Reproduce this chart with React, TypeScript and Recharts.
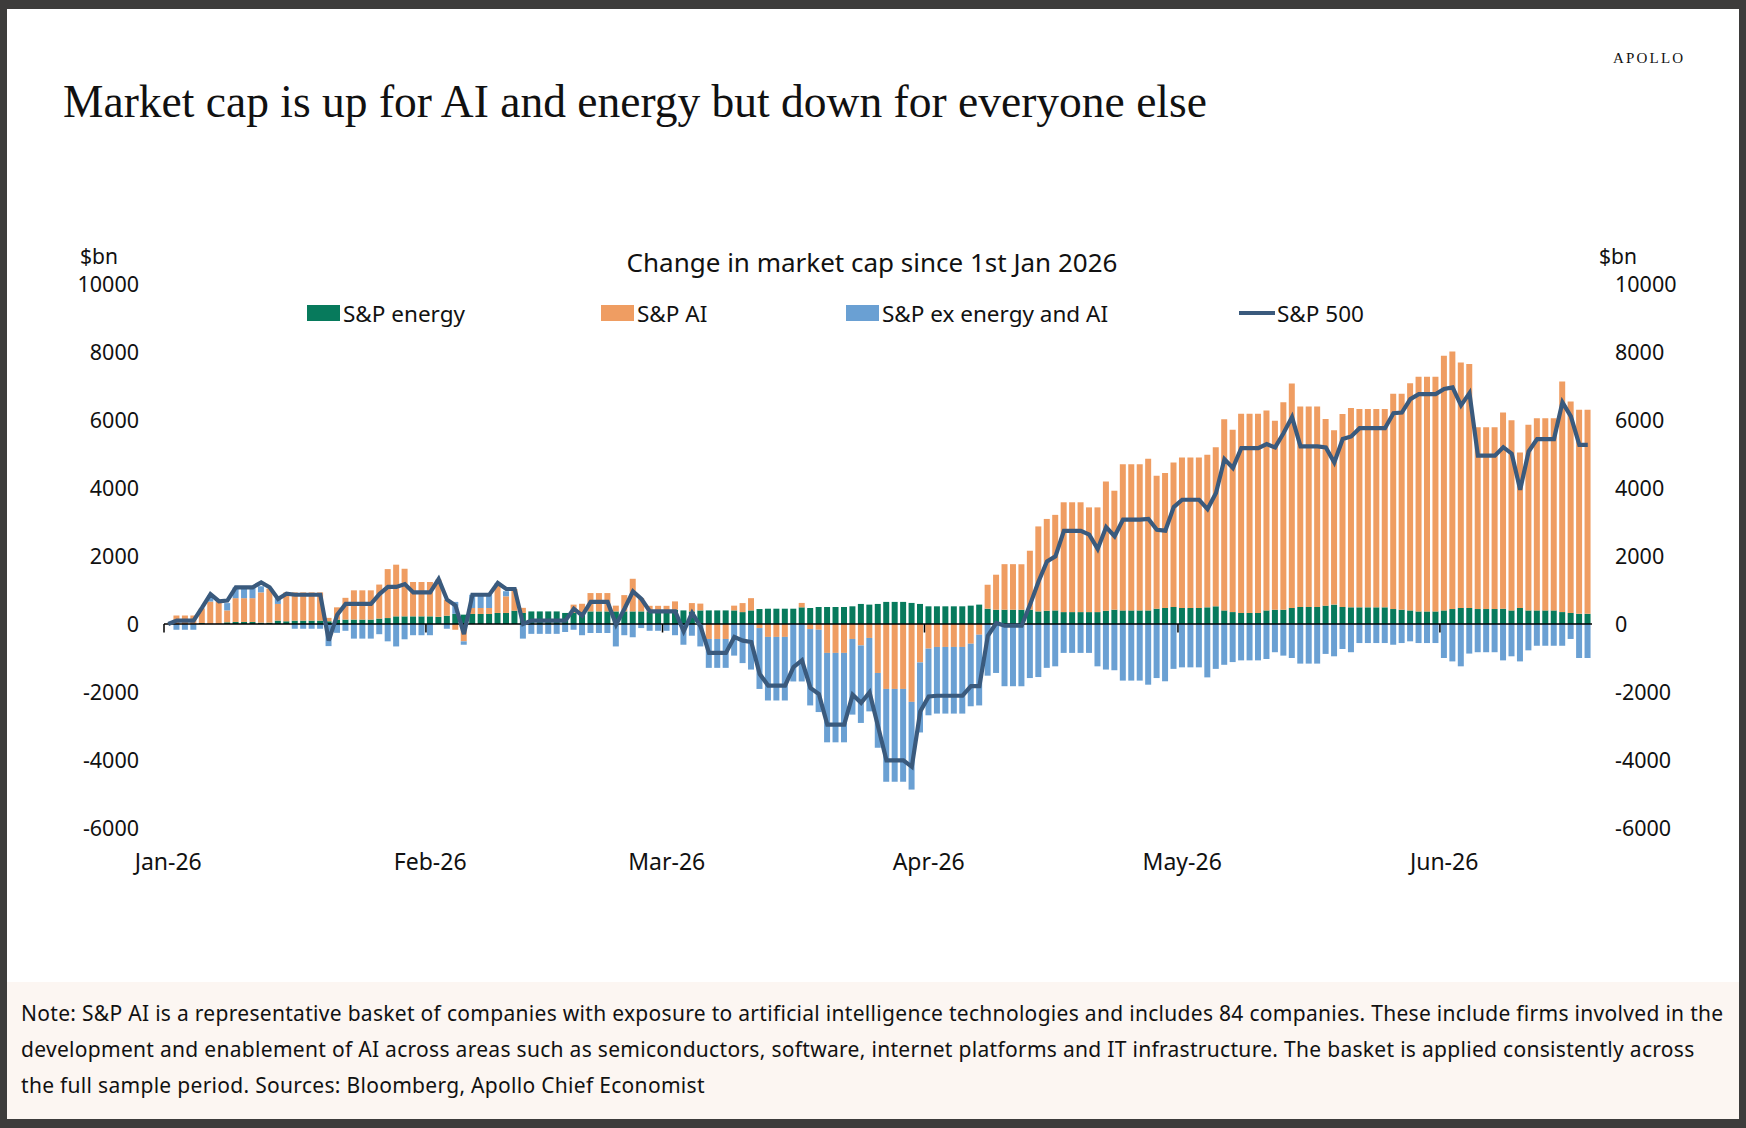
import {
  ComposedChart,
  Bar,
  Line,
  XAxis,
  YAxis,
  ReferenceLine,
} from "recharts";

// daily values, 1 Jan 2026 - 18 Jun 2026 (weekends carry Friday's value), $bn
const energy = [
  // Jan
  0, 0, 0, 0, 30, 10, 10, 50, 60, 60, 60, 40, 40, 100, 80, 100, 100, 100, 100, 80, 130, 130, 130, 130, 130, 160, 175, 225, 225, 225, 225,
  // Feb
  225, 210, 245, 300, 275, 295, 295, 295, 325, 325, 390, 325, 370, 370, 370, 370, 325, 325, 350, 370, 370, 370, 370, 370, 370, 370, 370, 370,
  // Mar
  370, 420, 400, 370, 400, 400, 400, 400, 400, 350, 400, 440, 450, 450, 450, 450, 490, 470, 500, 500, 500, 500, 520, 590, 570, 590, 650, 650, 650, 620, 590,
  // Apr
  520, 520, 520, 520, 520, 540, 570, 450, 420, 420, 420, 420, 420, 370, 390, 400, 350, 350, 350, 350, 350, 390, 420, 400, 400, 400, 400, 450, 470, 500,
  // May
  470, 470, 470, 490, 520, 400, 350, 325, 325, 325, 400, 420, 420, 470, 500, 500, 500, 540, 570, 500, 490, 490, 490, 490, 490, 440, 420, 400, 370, 370, 370,
  // Jun
  400, 440, 470, 470, 440, 440, 440, 450, 400, 470, 400, 400, 400, 400, 350, 325, 300, 300,
];

const ai = [
  // Jan
  0, 250, 250, 250, 430, 650, 650, 350, 700, 700, 700, 890, 1000, 490, 850, 830, 830, 830, 830, 100, 360, 640, 860, 860, 860, 1000, 1440, 1520, 1400, 1010, 1010,
  // Feb
  1010, 1100, 470, -170, -510, 175, 175, 175, 800, 490, 640, 150, 0, 0, 0, 0, 0, 245, 245, 540, 540, 540, 170, 480, 960, 390, 165, 165,
  // Mar
  165, 245, 0, 245, 200, -440, -440, -440, 140, 265, 360, -120, -380, -380, -380, 0, 130, -150, -170, -850, -850, -850, -440, -630, -410, -1440, -1910, -1910, -1910, -2290, -1130,
  // Apr
  -725, -675, -675, -675, -675, -580, -315, 705, 1030, 1340, 1340, 1340, 1735, 2500, 2700, 2810, 3230, 3230, 3230, 3080, 3080, 3800, 3500, 4300, 4300, 4300, 4460, 3910, 3970, 4250,
  // May
  4430, 4430, 4430, 4490, 4680, 5625, 5360, 5860, 5860, 5860, 5880, 5560, 6100, 6600, 5900, 5900, 5900, 5490, 5125, 5680, 5860, 5830, 5830, 5830, 5830, 6330, 6350, 6680, 6900, 6900, 6900,
  // Jun
  7490, 7575, 7220, 7180, 5350, 5350, 5350, 5770, 5590, 4575, 5460, 5650, 5650, 5650, 6780, 6220, 6000, 6000,
];

const exEnergyAi = [
  // Jan
  0, -170, -170, -170, 0, 180, 0, 215, 315, 315, 315, 180, 0, 200, 0, -140, -140, -140, -140, -650, -260, -200, -430, -430, -430, -300, -510, -660, -450, -330, -330,
  // Feb
  -330, 0, -140, 350, -100, 390, 390, 390, 70, 150, 0, -430, -290, -290, -290, -290, -235, -170, -330, -265, -265, -265, -660, -330, -390, -120, -200, -200,
  // Mar
  -200, -330, -610, -345, -660, -850, -850, -850, -930, -1150, -1340, -1790, -1870, -1870, -1870, -1690, -1690, -2245, -2420, -2630, -2630, -2630, -2225, -2280, -2160, -2200, -2730, -2730, -2730, -2580, -2060,
  // Apr
  -1960, -1960, -1960, -1960, -1960, -1840, -2080, -1520, -1440, -1830, -1830, -1830, -1590, -1560, -1290, -1245, -850, -850, -850, -850, -1245, -1340, -1360, -1665, -1665, -1665, -1785, -1590, -1685, -1320,
  // May
  -1275, -1275, -1275, -1570, -1320, -1200, -1120, -1070, -1070, -1070, -1030, -830, -930, -1000, -1165, -1165, -1165, -880, -950, -735, -830, -560, -560, -560, -560, -610, -560, -510, -560, -560, -560,
  // Jun
  -1000, -1100, -1245, -870, -830, -830, -830, -1070, -950, -1100, -775, -640, -640, -640, -640, -440, -1000, -1000,
];

const sp500 = [
  // Jan
  0, 100, 100, 100, 480, 880, 670, 690, 1080, 1080, 1080, 1225, 1080, 735, 890, 860, 860, 860, 860, -490, 275, 590, 590, 590, 590, 880, 1090, 1090, 1175, 930, 930,
  // Feb
  930, 1320, 715, 540, -295, 860, 860, 860, 1205, 1030, 1030, 0, 100, 100, 100, 100, 100, 450, 245, 650, 650, 650, -20, 450, 960, 735, 370, 370,
  // Mar
  370, 370, -215, 325, -70, -850, -850, -850, -380, -490, -530, -1470, -1810, -1810, -1810, -1265, -1070, -1880, -2060, -2960, -2960, -2960, -2080, -2320, -2010, -3010, -4010, -4010, -4010, -4200, -2570,
  // Apr
  -2130, -2110, -2110, -2110, -2110, -1830, -1830, -345, 30, -50, -50, -50, 570, 1250, 1840, 1990, 2740, 2740, 2740, 2630, 2205, 2850, 2580, 3070, 3070, 3070, 3090, 2770, 2745, 3440,
  // May
  3655, 3655, 3655, 3380, 3850, 4850, 4590, 5175, 5175, 5175, 5290, 5195, 5615, 6085, 5225, 5225, 5225, 5195, 4750, 5440, 5515, 5760, 5760, 5760, 5760, 6200, 6220, 6615, 6760, 6760, 6760,
  // Jun
  6910, 6960, 6430, 6790, 4950, 4950, 4950, 5200, 5010, 3950, 5075, 5440, 5440, 5440, 6520, 6105, 5270, 5270,
];

const monthTicks = ["2026-01-01", "2026-02-01", "2026-03-01", "2026-04-01", "2026-05-01", "2026-06-01"];
const monthLabels = ["Jan-26", "Feb-26", "Mar-26", "Apr-26", "May-26", "Jun-26"];
const yTicks = [-6000, -4000, -2000, 0, 2000, 4000, 6000, 8000, 10000];

const GREEN = "#077a5c";
const ORANGE = "#ef9d62";
const BLUE = "#6aa0d3";
const NAVY = "#3a5a7d";
const SANS = "'Noto Sans', sans-serif";

function dayKey(i: number) {
  const d = new Date(Date.UTC(2026, 0, 1 + i));
  return d.toISOString().slice(0, 10);
}

const data = energy.map((v, i) => ({
  date: dayKey(i),
  energy: v,
  ai: ai[i],
  ex: exEnergyAi[i],
  sp500: sp500[i],
}));

const legendItems = [
  { label: "S&P energy", color: GREEN, kind: "box", left: 307 },
  { label: "S&P AI", color: ORANGE, kind: "box", left: 601 },
  { label: "S&P ex energy and AI", color: BLUE, kind: "box", left: 846 },
  { label: "S&P 500", color: NAVY, kind: "line", left: 1239 },
];

const tickStyle = { fill: "#111", fontSize: 21.5, fontFamily: SANS };

export default function App() {
  return (
    <div
      style={{
        position: "absolute",
        left: 0,
        top: 0,
        width: 1746,
        height: 1128,
        background: "#3d3c3b",
        overflow: "hidden",
        fontFamily: SANS,
      }}
    >
      <div style={{ position: "absolute", left: 7, top: 9, width: 1732, height: 1110, background: "#fff" }} />

      <div
        style={{
          position: "absolute",
          left: 1613,
          top: 50,
          fontFamily: "'Liberation Serif', serif",
          fontSize: 15,
          letterSpacing: 2.2,
          color: "#111",
        }}
      >
        APOLLO
      </div>

      <div
        style={{
          position: "absolute",
          left: 63,
          top: 75,
          fontFamily: "'Liberation Serif', serif",
          fontSize: 45.5,
          color: "#111",
          whiteSpace: "nowrap",
        }}
      >
        Market cap is up for AI and energy but down for everyone else
      </div>

      <div style={{ position: "absolute", left: 80, top: 242, fontSize: 21, color: "#111" }}>$bn</div>
      <div style={{ position: "absolute", left: 1599, top: 242, fontSize: 21, color: "#111" }}>$bn</div>

      <div
        style={{
          position: "absolute",
          left: 522,
          width: 700,
          top: 244,
          textAlign: "center",
          fontSize: 26,
          color: "#111",
        }}
      >
        Change in market cap since 1st Jan 2026
      </div>

      {legendItems.map((it) => (
        <div
          key={it.label}
          style={{
            position: "absolute",
            left: it.left,
            top: 298,
            height: 30,
            display: "flex",
            alignItems: "center",
            fontSize: 22.5,
            color: "#111",
            whiteSpace: "nowrap",
          }}
        >
          {it.kind === "box" ? (
            <span style={{ display: "inline-block", width: 33, height: 16, background: it.color, marginRight: 3 }} />
          ) : (
            <span style={{ display: "inline-block", width: 36, height: 4, background: it.color, marginRight: 2 }} />
          )}
          <span>{it.label}</span>
        </div>
      ))}

      <div style={{ position: "absolute", left: 0, top: 0 }}>
        <ComposedChart
          width={1746}
          height={900}
          data={data}
          stackOffset="sign"
          margin={{ top: 284, right: 90, bottom: 32, left: 100 }}
          barCategoryGap={0}
        >
          <XAxis
            dataKey="date"
            ticks={monthTicks}
            interval={0}
            tickFormatter={(v: string) => monthLabels[monthTicks.indexOf(v)] ?? ""}
            tick={{ ...tickStyle, fontSize: 23 }}
            tickLine={false}
            axisLine={false}
            tickSize={0}
            tickMargin={26}
            height={40}
          />
          <YAxis
            yAxisId="left"
            domain={[-6000, 10000]}
            ticks={yTicks}
            tick={tickStyle}
            tickLine={false}
            axisLine={false}
            tickSize={0}
            tickMargin={25}
            width={64}
            interval={0}
          />
          <YAxis
            yAxisId="right"
            orientation="right"
            domain={[-6000, 10000]}
            ticks={yTicks}
            tick={tickStyle}
            tickLine={false}
            axisLine={false}
            tickSize={0}
            tickMargin={23}
            width={64}
            interval={0}
          />
          <Bar yAxisId="left" dataKey="energy" stackId="cap" fill={GREEN} barSize={6} isAnimationActive={false} />
          <Bar yAxisId="left" dataKey="ai" stackId="cap" fill={ORANGE} barSize={6} isAnimationActive={false} />
          <Bar yAxisId="left" dataKey="ex" stackId="cap" fill={BLUE} barSize={6} isAnimationActive={false} />
          <ReferenceLine yAxisId="left" y={0} stroke="#000" strokeWidth={1.6} />
          {monthTicks.map((m) => (
            <ReferenceLine
              key={m}
              yAxisId="left"
              position="start"
              segment={[
                { x: m, y: 0 },
                { x: m, y: -250 },
              ]}
              stroke="#000"
              strokeWidth={1.5}
            />
          ))}
          <Line
            yAxisId="right"
            type="linear"
            dataKey="sp500"
            stroke={NAVY}
            strokeWidth={4.2}
            dot={false}
            isAnimationActive={false}
          />
        </ComposedChart>
      </div>

      <div
        style={{
          position: "absolute",
          left: 7,
          top: 982,
          width: 1732,
          height: 137,
          background: "#fcf6f2",
        }}
      />
      <div
        style={{
          position: "absolute",
          left: 21,
          top: 995,
          fontSize: 21,
          letterSpacing: 0.3,
          lineHeight: "36px",
          color: "#111",
          whiteSpace: "nowrap",
        }}
      >
        <div>
          Note: S&amp;P AI is a representative basket of companies with exposure to artificial intelligence technologies and includes 84 companies. These include firms involved in the
        </div>
        <div>
          development and enablement of AI across areas such as semiconductors, software, internet platforms and IT infrastructure. The basket is applied consistently across
        </div>
        <div>the full sample period. Sources: Bloomberg, Apollo Chief Economist</div>
      </div>
    </div>
  );
}
